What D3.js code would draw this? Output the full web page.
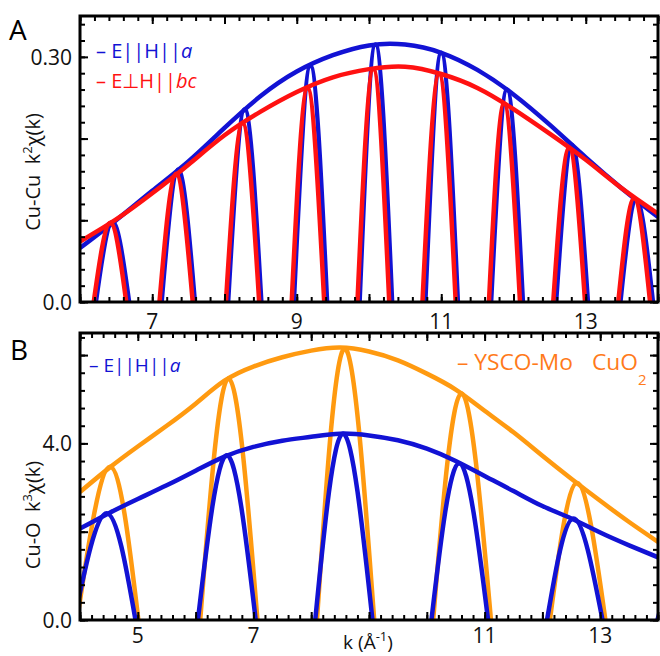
<!DOCTYPE html>
<html><head><meta charset="utf-8">
<script src="https://cdn.jsdelivr.net/npm/d3@7"></script>
<style>body{margin:0;background:#fff} svg{display:block} text{font-family:"Open Sans",sans-serif}</style>
</head><body><svg id="c" width="660" height="656"></svg>
<script>
// ---------- data ----------
const kLabelsA = [7, 9, 11, 13];
const yLabelsA = [0.0, 0.30];
const yLabelTextA = ["0.0", "0.30"];
const kLabelsB = [5, 7, 11, 13];
const yLabelsB = [0.0, 4.0];
const yLabelTextB = ["0.0", "4.0"];

// Panel A envelopes [k, value]
const envBlueA = [[6.0,0.066],[6.5,0.100],[7.0,0.136],[7.5,0.172],[8.0,0.213],[8.5,0.252],[9.0,0.282],[9.5,0.302],[10.0,0.314],[10.5,0.315],[11.0,0.305],[11.5,0.284],[12.0,0.254],[12.5,0.217],[13.0,0.177],[13.5,0.139],[14.0,0.104]];
const envRedA = [[6.0,0.074],[6.5,0.101],[7.0,0.133],[7.5,0.168],[8.0,0.204],[8.5,0.233],[9.0,0.257],[9.5,0.275],[10.0,0.285],[10.5,0.288],[11.0,0.279],[11.5,0.262],[12.0,0.236],[12.5,0.206],[13.0,0.174],[13.5,0.139],[14.0,0.108]];
// Panel A arches [start k, peak k, peak value, end k]
const archBlueA = [[6.22,6.45,0.098,6.68],[7.13,7.36,0.162,7.59],[8.05,8.28,0.236,8.51],[8.96,9.19,0.289,9.42],[9.87,10.09,0.315,10.32],[10.78,11.00,0.305,11.23],[11.69,11.91,0.260,12.13],[12.59,12.81,0.192,13.03],[13.48,13.70,0.125,13.93]];
const archRedA = [[6.19,6.42,0.097,6.64],[7.10,7.33,0.157,7.56],[8.02,8.25,0.219,8.48],[8.93,9.15,0.262,9.38],[9.84,10.06,0.285,10.28],[10.74,10.97,0.279,11.20],[11.66,11.87,0.243,12.09],[12.55,12.77,0.189,12.99],[13.45,13.67,0.127,13.89]];

// Panel B envelopes
const envOrangeB = [[4.0,2.90],[4.5,3.44],[5.0,3.93],[5.5,4.40],[6.0,4.90],[6.5,5.42],[7.0,5.74],[7.5,5.95],[8.0,6.10],[8.5,6.17],[9.0,6.08],[9.5,5.88],[10.0,5.58],[10.5,5.22],[11.0,4.74],[11.5,4.25],[12.0,3.72],[12.5,3.20],[13.0,2.70],[13.5,2.22],[14.0,1.77]];
const envBlueB = [[4.0,2.07],[4.5,2.42],[5.0,2.74],[5.5,3.05],[6.0,3.38],[6.5,3.70],[7.0,3.92],[7.5,4.06],[8.0,4.15],[8.5,4.22],[9.0,4.18],[9.5,4.07],[10.0,3.88],[10.5,3.60],[11.0,3.26],[11.5,2.92],[12.0,2.58],[12.5,2.30],[13.0,1.98],[13.5,1.69],[14.0,1.42]];
const archOrangeB = [[3.95,4.52,3.47,5.01],[6.08,6.57,5.47,7.07],[8.10,8.58,6.15,9.09],[10.11,10.60,5.13,11.11],[12.13,12.60,3.10,13.09]];
const archBlueB = [[3.90,4.46,2.42,4.96],[6.04,6.54,3.73,7.04],[8.07,8.55,4.22,9.06],[10.08,10.56,3.55,11.06],[12.08,12.54,2.30,13.04],[13.99,14.48,1.60,14.97]];

// ---------- drawing ----------
const BLUE = "#1212d4", RED = "#ff1111", ORANGE = "#ff9a10", ORANGE_TXT = "#ff7a1a";
const svg = d3.select("#c");
const defs = svg.append("defs");

function drawPanel(p) {
  const x = d3.scaleLinear().domain(p.xDomain).range([p.left, p.right]);
  const y = d3.scaleLinear().domain(p.yDomain).range([p.bottom, p.top]);
  defs.append("clipPath").attr("id", p.id).append("rect")
    .attr("x", p.left).attr("y", p.top).attr("width", p.right - p.left).attr("height", p.bottom - p.top);
  const g = svg.append("g");
  const plot = g.append("g").attr("clip-path", `url(#${p.id})`);
  const line = d3.line().x(d => x(d[0])).y(d => y(d[1])).curve(d3.curveNatural);
  p.series.forEach(s => {
    plot.append("path").datum(s.env).attr("d", line)
      .attr("fill", "none").attr("stroke", s.color).attr("stroke-width", 4.5).attr("stroke-linejoin", "round");
    s.arches.forEach(a => {
      plot.append("path").datum([[a[0], 0], [a[1], a[2]], [a[3], 0]]).attr("d", line)
        .attr("fill", "none").attr("stroke", s.color).attr("stroke-width", 4.5).attr("stroke-linejoin", "round");
    });
  });
  // ticks (inward) on all four sides
  const axesDef = [
    [d3.axisBottom(x), `translate(0,${p.bottom})`, p.xMinor, p.xMajor],
    [d3.axisTop(x), `translate(0,${p.top})`, p.xMinor, p.xMajor],
    [d3.axisLeft(y), `translate(${p.left},0)`, p.yMinor, p.yMajor],
    [d3.axisRight(y), `translate(${p.right},0)`, p.yMinor, p.yMajor]
  ];
  axesDef.forEach(([ax, tr, minor, major]) => {
    [[minor, 5], [major, 8]].forEach(([vals, len]) => {
      const ag = g.append("g").attr("transform", tr)
        .call(ax.tickValues(vals).tickSize(-len).tickFormat(""));
      ag.select(".domain").remove();
      ag.selectAll(".tick line").attr("stroke", "#000").attr("stroke-width", 2);
    });
  });
  g.append("rect").attr("x", p.left).attr("y", p.top)
    .attr("width", p.right - p.left).attr("height", p.bottom - p.top)
    .attr("fill", "none").attr("stroke", "#000").attr("stroke-width", 3);
  // tick labels
  p.xLabels.forEach(v => {
    g.append("text").attr("x", x(v)).attr("y", p.bottom + p.xLabelDy)
      .attr("text-anchor", "middle").attr("dominant-baseline", "central")
      .attr("font-size", 21).attr("fill", "#111").text(v);
  });
  p.yLabels.forEach((v, i) => {
    g.append("text").attr("x", p.left - 8).attr("y", y(v))
      .attr("text-anchor", "end").attr("dominant-baseline", "central")
      .attr("font-size", 21).attr("fill", "#111").text(p.yLabelText[i]);
  });
  return {x, y, g};
}

const rng = (a, b, s) => d3.range(0, Math.round((b - a) / s) + 1).map(i => +(a + i * s).toFixed(4));

drawPanel({
  id: "clipA", left: 80, right: 658, top: 16, bottom: 302,
  xDomain: [6, 14], yDomain: [0, 0.35],
  xMinor: rng(6, 14, 0.2), xMajor: rng(6, 14, 1),
  yMinor: rng(0, 0.34, 0.02), yMajor: rng(0, 0.3, 0.1),
  xLabels: kLabelsA, xLabelDy: 19, yLabels: yLabelsA, yLabelText: yLabelTextA,
  series: [{env: envBlueA, arches: archBlueA, color: BLUE}, {env: envRedA, arches: archRedA, color: RED}]
});
drawPanel({
  id: "clipB", left: 80, right: 658, top: 333, bottom: 620,
  xDomain: [4, 14], yDomain: [0, 6.5],
  xMinor: rng(4, 14, 0.2), xMajor: rng(4, 14, 1),
  yMinor: rng(0, 6.4, 0.4), yMajor: rng(0, 6, 2),
  xLabels: kLabelsB, xLabelDy: 15, yLabels: yLabelsB, yLabelText: yLabelTextB,
  series: [{env: envOrangeB, arches: archOrangeB, color: ORANGE}, {env: envBlueB, arches: archBlueB, color: BLUE}]
});

// panel letters
svg.append("text").attr("x", 9).attr("y", 40).attr("font-size", 28).attr("fill", "#000").text("A");
svg.append("text").attr("x", 10).attr("y", 360).attr("font-size", 28).attr("fill", "#000").text("B");

// y-axis titles
function yTitle(cx, cy, main, sup, rest) {
  const t = svg.append("text").attr("transform", `translate(${cx},${cy}) rotate(-90)`)
    .attr("text-anchor", "middle").attr("font-size", 20).attr("fill", "#111");
  t.append("tspan").text(main);
  t.append("tspan").attr("dy", -8).attr("font-size", 13).text(sup);
  t.append("tspan").attr("dy", 8).text(rest);
}
yTitle(40, 172, "Cu-Cu\u00a0 k", "2", "\u03c7(k)");
yTitle(40, 515, "Cu-O\u00a0 k", "3", "\u03c7(k)");

// x-axis title (panel B)
{
  const t = svg.append("text").attr("x", 368).attr("y", 649).attr("text-anchor", "middle")
    .attr("font-size", 19).attr("fill", "#111");
  t.append("tspan").text("k (\u00c5");
  t.append("tspan").attr("dy", -8).attr("font-size", 13).text("-1");
  t.append("tspan").attr("dy", 8).text(")");
}

// legends
function legend(xp, yp, color, fs, parts) {
  const t = svg.append("text").attr("x", xp).attr("y", yp).attr("font-size", fs).attr("fill", color);
  parts.forEach(pt => {
    const s = t.append("tspan").text(pt.t);
    if (pt.i) s.attr("font-style", "italic");
    if (pt.x != null) s.attr("x", pt.x);
    if (pt.dy) s.attr("dy", pt.dy);
    if (pt.fs) s.attr("font-size", pt.fs);
    if (pt.len) s.attr("textLength", pt.len).attr("lengthAdjust", "spacingAndGlyphs");
  });
}
legend(96, 58, BLUE, 20, [{t: "\u2013 E||H||"}, {t: "a", i: true}]);
legend(96, 88, RED, 20, [{t: "\u2013 E\u22a5H||"}, {t: "bc", i: true}]);
legend(89, 372, BLUE, 19, [{t: "\u2013 E||H||"}, {t: "a", i: true}]);
legend(457, 370, ORANGE_TXT, 22, [{t: "\u2013 YSCO-Mo", len: 116}, {t: "CuO", x: 592, len: 46}, {t: "2", dy: 15, fs: 15}]);
</script></body></html>
